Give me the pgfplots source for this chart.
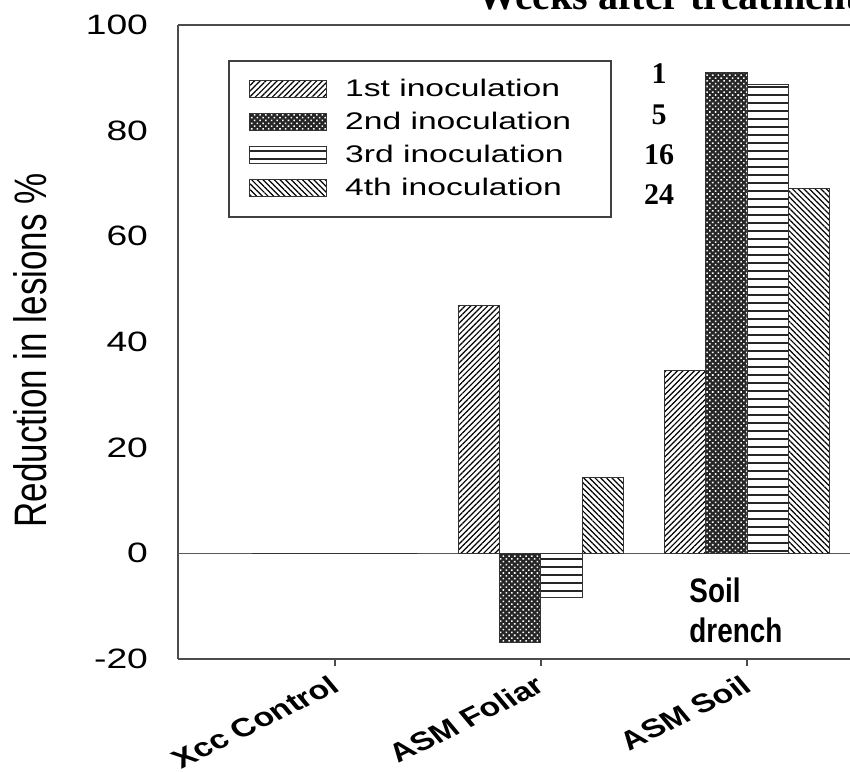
\documentclass[border=0pt]{standalone}
\usepackage{fontspec}
\usepackage{pgfplots}
\usepackage{pgfplotstable}
\pgfplotsset{compat=1.18}
\usetikzlibrary{patterns,patterns.meta}
\setmainfont{Liberation Sans}
\newfontfamily\tickfont[FakeStretch=1.33]{Liberation Sans}
\newfontfamily\legfont[FakeStretch=1.4]{Liberation Sans}
\newfontfamily\catfont{Liberation Sans}
\newfontfamily\notefont[FakeStretch=0.82]{Liberation Sans}
\newfontfamily\serifnum{Liberation Serif}

% horizontal hatching, 4pt apart, lines run past the tile edges
\pgfdeclarepatternformonly{hlines4}{\pgfqpoint{-1pt}{-1pt}}{\pgfqpoint{21pt}{5pt}}{\pgfqpoint{20pt}{4pt}}{
  \pgfsetlinewidth{0.65pt}
  \pgfpathmoveto{\pgfqpoint{-1pt}{2pt}}
  \pgfpathlineto{\pgfqpoint{21pt}{2pt}}
  \pgfusepath{stroke}}

% reduction in lesions (%) per treatment and inoculation
\pgfplotstableread{
cat first second third fourth
0   0     0      0     0
1   46.9  -16.8  -8.4  14.4
2   34.6  91.1   88.7  69.1
}\lesions

\begin{document}
\begin{tikzpicture}
\path[use as bounding box] (-89pt,-56pt) rectangle (336pt,329.5pt);
\clip (-89pt,-56pt) rectangle (336pt,329.5pt);
\begin{axis}[
  scale only axis, width=336pt, height=317pt,
  at={(0pt,0pt)}, anchor=south west,
  xmin=-0.761, xmax=2.5, ymin=-20, ymax=100,
  enlargelimits=false,
  axis x line=box, axis y line=left,
  axis line style={-, draw=black!70, line width=1pt},
  ybar=0pt, bar width=0.2,
  xtick={0,1,2}, xticklabels={Xcc Control,ASM Foliar,ASM Soil},
  xtick pos=left, tick align=outside, major tick length=3.5pt,
  xtick style={draw=black!70, line width=0.9pt},
  ytick={-20,0,20,40,60,80,100},
  ytick style={draw=none},
  /pgf/number format/assume math mode=true,
  yticklabel style={font=\tickfont\fontsize{14}{14}\selectfont, xshift=-8pt},
  xticklabel style={font=\catfont\bfseries\fontsize{13}{13}\selectfont,
    anchor=north east, xscale=1.3, rotate=32.7, xshift=-1pt, yshift=1.5pt},
  ylabel={\scalebox{1}[1.3]{Reduction in lesions \%}},
  every axis y label/.style={at={(axis description cs:-0.220,0.487)},
    rotate=90, anchor=center, font=\fontsize{17.5}{17.5}\selectfont},
  legend image code/.code={
    \draw[#1, line width=0.6pt] (0pt,-4.25pt) rectangle (38.5pt,4.25pt);
    \path (47.5pt,0pt);},
  legend cell align=left,
  legend style={at={(axis description cs:0.0744,0.9448)}, anchor=north west,
    draw=black!75, line width=0.8pt, inner xsep=10pt, inner ysep=6pt,
    row sep=0pt, font=\legfont\fontsize{12}{12}\selectfont,
    nodes={inner sep=0pt, minimum height=16.5pt}},
]
\draw[black!65, line width=0.8pt] (axis cs:-0.761,0) -- (axis cs:2.5,0);
\addplot[draw=black!80, fill=white,
  postaction={pattern={Lines[angle=45,distance=2pt,line width=0.6pt]}}]
  table[x=cat,y=first]{\lesions};
\addplot[draw=black!80, fill=black!85,
  postaction={pattern={Dots[distance=2pt,radius=0.55pt,angle=45]}, pattern color=white}]
  table[x=cat,y=second]{\lesions};
\addplot[draw=black!80, fill=white,
  postaction={pattern=hlines4, pattern color=black!85}]
  table[x=cat,y=third]{\lesions};
\addplot[draw=black!80, fill=white,
  postaction={pattern={Lines[angle=-45,distance=2pt,line width=0.6pt]}}]
  table[x=cat,y=fourth]{\lesions};
\legend{1st inoculation,2nd inoculation\hspace*{10pt},3rd inoculation,4th inoculation}
\end{axis}
\node[anchor=base west, inner sep=0pt, font=\serifnum\bfseries\fontsize{20}{20}\selectfont]
  at (149.5pt,324.75pt) {Weeks after treatment};
\begin{scope}[every node/.style={anchor=base, inner sep=0pt,
    font=\serifnum\bfseries\fontsize{15}{15}\selectfont}]
  \node at (240.5pt,287.5pt) {1};
  \node at (240.5pt,267.25pt) {5};
  \node at (240.5pt,247pt) {16};
  \node at (240.5pt,227pt) {24};
\end{scope}
\node[anchor=base west, inner sep=0pt, font=\notefont\bfseries\fontsize{17}{17}\selectfont]
  at (255.5pt,28.5pt) {Soil};
\node[anchor=base west, inner sep=0pt, font=\notefont\bfseries\fontsize{17}{17}\selectfont]
  at (255.5pt,8.5pt) {drench};
\end{tikzpicture}
\end{document}
